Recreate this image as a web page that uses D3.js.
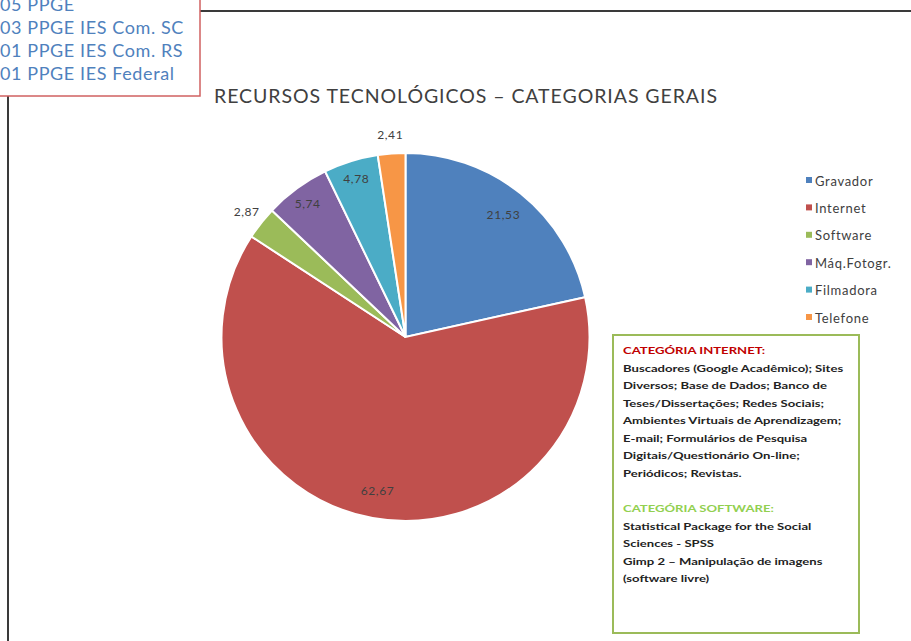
<!DOCTYPE html>
<html>
<head>
<meta charset="utf-8">
<script src="https://cdn.jsdelivr.net/npm/d3@7"></script>
<style>
  body { margin: 0; background: #fff; }
  svg { display: block; font-family: Lato, "Open Sans", sans-serif; }
</style>
</head>
<body>
<script>
// chart data
const categories = ["Gravador", "Internet", "Software", "Máq.Fotogr.", "Filmadora", "Telefone"];
const values = [21.53, 62.67, 2.87, 5.74, 4.78, 2.41];
const colors = ["#4f81bd", "#c0504d", "#9bbb59", "#8064a2", "#4bacc6", "#f79646"];

const title = "RECURSOS TECNOLÓGICOS – CATEGORIAS GERAIS";
const noteLines = ["05 PPGE", "03 PPGE IES Com. SC", "01 PPGE IES Com. RS", "01 PPGE IES Federal"];

const internetHead = "CATEGÓRIA  INTERNET:";
const internetLines = [
  "Buscadores (Google Acadêmico); Sites",
  "Diversos; Base de Dados; Banco de",
  "Teses/Dissertações;   Redes Sociais;",
  "Ambientes Virtuais de Aprendizagem;",
  "E-mail; Formulários de Pesquisa",
  "Digitais/Questionário On-line;",
  "Periódicos; Revistas."
];
const softwareHead = "CATEGÓRIA  SOFTWARE:";
const softwareLines = [
  "Statistical  Package  for  the  Social",
  "Sciences  - SPSS",
  "Gimp 2 – Manipulação de imagens",
  "(software  livre)"
];

const width = 911, height = 641;
const svg = d3.select("body").append("svg")
  .attr("width", width)
  .attr("height", height);

// outer frame (top and left edges visible)
svg.append("line").attr("x1", 200).attr("x2", width).attr("y1", 11).attr("y2", 11)
  .attr("stroke", "#3a3a3a").attr("stroke-width", 2);
svg.append("line").attr("x1", 8).attr("x2", 8).attr("y1", 96).attr("y2", height)
  .attr("stroke", "#3a3a3a").attr("stroke-width", 2);

// note box top-left
svg.append("rect").attr("x", -2).attr("y", -10).attr("width", 202).attr("height", 106)
  .attr("fill", "#fff").attr("stroke", "#d06060").attr("stroke-width", 1.5);
svg.append("g").selectAll("text")
  .data(noteLines)
  .join("text")
  .attr("x", 0)
  .attr("y", (d, i) => 11 + i * 23)
  .attr("fill", "#4f81bd")
  .attr("font-size", 18)
  .attr("letter-spacing", 0.6)
  .text(d => d);

// title
svg.append("text")
  .attr("x", 214).attr("y", 103)
  .attr("fill", "#404040")
  .attr("font-size", 19.5)
  .attr("textLength", 503)
  .attr("lengthAdjust", "spacing")
  .text(title);

// pie
const cx = 405.5, cy = 337, r = 184;
const pie = d3.pie().sort(null).value(d => d)(values);
const arc = d3.arc().innerRadius(0).outerRadius(r);
const g = svg.append("g").attr("transform", `translate(${cx},${cy})`);

g.selectAll("path")
  .data(pie)
  .join("path")
  .attr("d", arc)
  .attr("fill", (d, i) => colors[i])
  .attr("stroke", "#fff")
  .attr("stroke-width", 2);

const fmt = v => v.toFixed(2).replace(".", ",");
const labelArc = d => {
  const k = d.value < 3 ? 1.1 : (d.value > 20 ? 0.85 : 0.9);
  return d3.arc().innerRadius(r * k).outerRadius(r * k).centroid(d);
};
g.selectAll("text")
  .data(pie)
  .join("text")
  .attr("transform", d => `translate(${labelArc(d)})`)
  .attr("text-anchor", "middle")
  .attr("dy", "0.35em")
  .attr("fill", "#404040")
  .attr("font-size", 12)
  .attr("letter-spacing", 0.6)
  .text(d => fmt(d.value));

// legend
const legend = svg.append("g").attr("transform", "translate(806,181)");
const item = legend.selectAll("g")
  .data(categories)
  .join("g")
  .attr("transform", (d, i) => `translate(0,${i * 27.4})`);
item.append("rect").attr("x", 0).attr("y", -4).attr("width", 6).attr("height", 6)
  .attr("fill", (d, i) => colors[i]);
item.append("text").attr("x", 9).attr("y", 0).attr("dy", "0.35em")
  .attr("fill", "#404040").attr("font-size", 13)
  .attr("letter-spacing", 0.7)
  .text(d => d);

// description box
svg.append("rect").attr("x", 613).attr("y", 335).attr("width", 246).attr("height", 298)
  .attr("fill", "#fff").attr("stroke", "#9bbb59").attr("stroke-width", 2);

// text in the box is drawn stretched horizontally, like the source image
const box = svg.append("g")
  .attr("transform", "translate(623,0) scale(1.38,1)")
  .attr("font-size", 9.5).attr("font-weight", "bold");
box.append("text").attr("x", 0).attr("y", 354).attr("fill", "#c00000").text(internetHead);
box.append("g").selectAll("text")
  .data(internetLines)
  .join("text")
  .attr("x", 0)
  .attr("y", (d, i) => 372 + i * 17.5)
  .attr("fill", "#222")
  .text(d => d);
box.append("text").attr("x", 0).attr("y", 512).attr("fill", "#92d050").text(softwareHead);
box.append("g").selectAll("text")
  .data(softwareLines)
  .join("text")
  .attr("x", 0)
  .attr("y", (d, i) => 530 + i * 17.5)
  .attr("fill", "#222")
  .text(d => d);
</script>
</body>
</html>
